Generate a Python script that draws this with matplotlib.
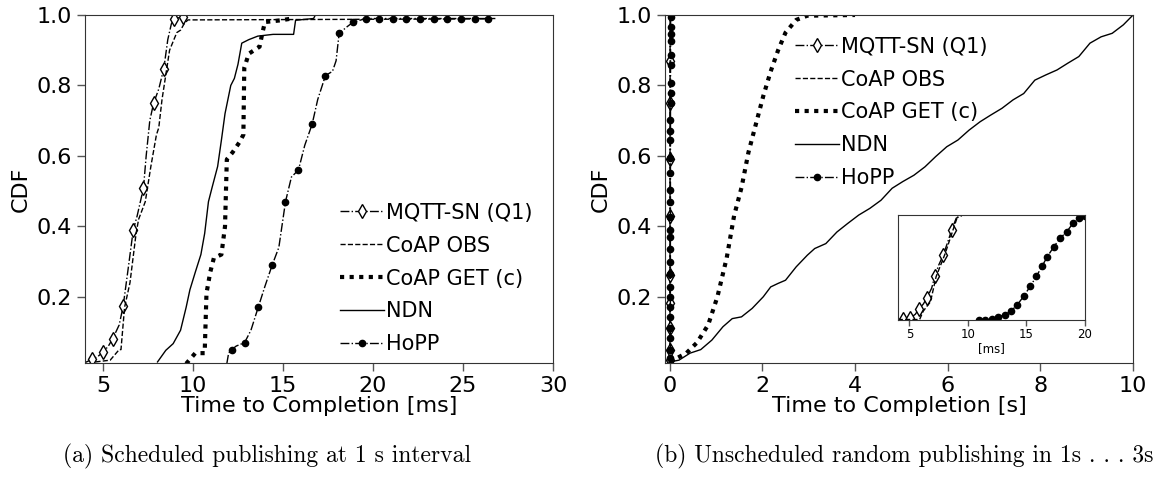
import numpy as np
import matplotlib
matplotlib.use("Agg")
import matplotlib.pyplot as plt
from matplotlib.lines import Line2D

# ---- (a) scheduled publishing, time in ms ----
mqtt_a_x = [4.0, 4.37, 4.7, 4.99, 5.3, 5.54, 5.9, 6.12, 6.4, 6.68, 6.9, 7.25, 7.4, 7.6, 7.81,
            8.1, 8.38, 8.6, 8.8, 8.96, 9.45, 9.7]
mqtt_a_y = [0.013, 0.022, 0.03, 0.042, 0.06, 0.081, 0.12, 0.173, 0.28, 0.389, 0.43, 0.509, 0.6,
            0.7, 0.749, 0.79, 0.848, 0.93, 0.975, 0.989, 0.995, 1.0]
mqtt_a_marks = [1, 3, 5, 7, 9, 11, 14, 16, 19, 20]

obs_a_x = [4.58, 5.4, 5.9, 6.0, 6.2, 6.5, 6.84, 6.98, 7.35, 7.66, 7.97, 8.1, 8.28, 8.49, 8.7,
           9.1, 9.31, 9.52, 9.72, 26.5]
obs_a_y = [0.015, 0.02, 0.05, 0.05, 0.17, 0.24, 0.38, 0.42, 0.47, 0.57, 0.66, 0.68, 0.76, 0.83,
           0.9, 0.95, 0.957, 0.976, 0.986, 0.989]

get_a_x = [9.62, 10.13, 10.65, 10.75, 10.96, 11.16, 11.58, 11.78, 11.88, 12.2, 12.6, 12.8,
           12.85, 13.1, 13.7, 13.86, 14.0, 14.9, 15.5]
get_a_y = [0.01, 0.04, 0.04, 0.21, 0.27, 0.31, 0.32, 0.40, 0.59, 0.61, 0.64, 0.66, 0.85, 0.89,
           0.91, 0.95, 0.98, 0.985, 0.99]

ndn_a_x = [8.03, 8.49, 8.9, 9.31, 9.62, 9.83, 10.13, 10.44, 10.65, 10.86, 11.06, 11.37, 11.58,
           11.78, 12.1, 12.3, 12.5, 12.71, 13.1, 13.6, 14.45, 15.59, 15.7, 16.7, 16.8]
ndn_a_y = [0.015, 0.048, 0.067, 0.105, 0.17, 0.22, 0.27, 0.32, 0.38, 0.47, 0.51, 0.57, 0.645,
           0.72, 0.8, 0.82, 0.86, 0.92, 0.93, 0.94, 0.945, 0.945, 0.985, 0.99, 1.0]

hopp_a_x = [11.88, 11.98, 12.15, 12.4, 12.87, 13.22, 13.63, 14.0, 14.4, 14.77, 15.14, 15.47,
            15.86, 16.21, 16.62, 16.93, 17.36, 17.75, 17.95, 18.12, 18.57, 18.88, 19.6, 20.36,
            21.1, 21.86, 22.6, 23.37, 24.1, 24.87, 25.65, 26.4, 26.8]
hopp_a_y = [0.01, 0.04, 0.05, 0.06, 0.07, 0.105, 0.171, 0.23, 0.29, 0.34, 0.47, 0.54, 0.56,
            0.63, 0.69, 0.76, 0.828, 0.84, 0.87, 0.948, 0.967, 0.979, 0.99, 0.99, 0.99, 0.99,
            0.99, 0.99, 0.99, 0.99, 0.99, 0.99, 0.99]
hopp_a_marks = [2, 4, 6, 8, 10, 12, 14, 16, 19, 21, 22, 23, 24, 25, 26, 27, 28, 29, 30, 31]

# ---- (b) unscheduled random publishing ----
# near-zero protocols, in ms (shown in the inset, and in s in the main plot)
mqtt_b_ms = [4.0, 4.41, 5.09, 5.5, 5.81, 6.2, 6.5, 6.9, 7.18, 7.5, 7.9, 8.3, 8.62, 9.0, 9.5, 10.0]
mqtt_b_y = [0.0, 0.006, 0.016, 0.05, 0.10, 0.15, 0.21, 0.30, 0.42, 0.52, 0.62, 0.75, 0.86,
            0.97, 0.995, 1.0]
mqtt_b_marks = [1, 2, 4, 6, 8, 10, 12]
mqtt_b_main_marks = [0.02, 0.048, 0.111, 0.182, 0.261, 0.429, 0.591, 0.75, 0.868]

obs_b_ms = [4.0, 5.87, 6.18, 6.8, 7.28, 8.05, 9.0, 9.15, 10.0]
obs_b_y = [0.0, 0.0, 0.08, 0.17, 0.41, 0.63, 0.95, 1.0, 1.0]

hopp_b_ms = [10.96, 11.49, 12.05, 12.58, 13.14, 13.67, 14.23, 14.76, 15.32, 15.85, 16.32, 16.79,
             17.35, 17.88, 18.44, 18.97, 19.53, 20.0, 21.0]
hopp_b_y = [0.0, 0.0, 0.006, 0.022, 0.048, 0.079, 0.143, 0.222, 0.317, 0.413, 0.508, 0.603,
            0.698, 0.778, 0.84, 0.92, 0.968, 0.99, 1.0]
hopp_b_main_marks = [0.006, 0.025, 0.048, 0.082, 0.11, 0.143, 0.17, 0.2, 0.228, 0.266, 0.3,
                     0.337, 0.37, 0.39, 0.427, 0.47, 0.503, 0.55, 0.593, 0.645, 0.67, 0.702,
                     0.75, 0.778, 0.806, 0.858, 0.886, 0.927, 0.946, 0.967, 0.995]

# slow protocols, in s
get_b_x = [0.0, 0.36, 0.59, 0.83, 1.03, 1.23, 1.39, 1.55, 1.7, 1.86, 2.02, 2.18, 2.34, 2.5,
           2.73, 2.97, 4.0]
get_b_y = [0.015, 0.04, 0.07, 0.12, 0.2, 0.31, 0.43, 0.51, 0.61, 0.69, 0.77, 0.84, 0.9, 0.95,
           0.986, 0.998, 1.0]

ndn_b_x = [0.0, 0.2, 0.44, 0.67, 0.91, 1.15, 1.35, 1.55, 1.78, 2.02, 2.18, 2.34, 2.5, 2.73,
           2.97, 3.13, 3.37, 3.61, 3.84, 4.08, 4.32, 4.56, 4.8, 5.03, 5.27, 5.51, 5.74, 5.98,
           6.22, 6.46, 6.7, 6.93, 7.17, 7.41, 7.64, 7.88, 8.12, 8.36, 8.59, 8.83, 9.07, 9.31,
           9.55, 9.79, 10.0]
ndn_b_y = [0.015, 0.02, 0.04, 0.05, 0.077, 0.115, 0.138, 0.143, 0.167, 0.2, 0.228, 0.238,
           0.247, 0.285, 0.318, 0.337, 0.351, 0.384, 0.408, 0.432, 0.451, 0.474, 0.508, 0.527,
           0.545, 0.569, 0.598, 0.626, 0.645, 0.673, 0.697, 0.716, 0.735, 0.759, 0.777, 0.815,
           0.83, 0.844, 0.863, 0.882, 0.92, 0.938, 0.948, 0.972, 1.0]

labels = ["MQTT-SN (Q1)", "CoAP OBS", "CoAP GET (c)", "NDN", "HoPP"]

FS = 16
plt.rcParams['font.family'] = ['DejaVu Sans']

s_mqtt = dict(color='k', ls='-.', lw=1.0)
s_obs = dict(color='k', ls='--', lw=1.0)
s_get = dict(color='k', ls=(0, (1, 1.3)), lw=3.0)
s_ndn = dict(color='k', ls='-', lw=1.0)
s_hopp = dict(color='k', ls='-.', lw=1.0)
m_mqtt = dict(marker='d', ms=7, mfc='white', mec='k', mew=1.0)
m_hopp = dict(marker='o', ms=4.5, mfc='k', mec='k')

handles = [Line2D([], [], **s_mqtt, **m_mqtt), Line2D([], [], **s_obs),
           Line2D([], [], **s_get), Line2D([], [], **s_ndn),
           Line2D([], [], **s_hopp, **m_hopp)]


def style_axes(ax, fs=FS):
    for sp in ax.spines.values():
        sp.set_color('#333333')
    ax.tick_params(direction='out', length=6, width=1, color='#555555', labelsize=fs,
                   top=False, right=False)


fig = plt.figure(figsize=(11.53, 4.82), dpi=100)

# ---------------- left ----------------
ax1 = fig.add_axes([0.0737, 0.2469, 0.4059, 0.722])
ax1.plot(mqtt_a_x, mqtt_a_y, **s_mqtt)
ax1.plot(np.array(mqtt_a_x)[mqtt_a_marks], np.array(mqtt_a_y)[mqtt_a_marks], ls='none', **m_mqtt)
ax1.plot(obs_a_x, obs_a_y, **s_obs)
ax1.plot(get_a_x, get_a_y, **s_get)
ax1.plot(ndn_a_x, ndn_a_y, **s_ndn)
ax1.plot(hopp_a_x, hopp_a_y, **s_hopp)
ax1.plot(np.array(hopp_a_x)[hopp_a_marks], np.array(hopp_a_y)[hopp_a_marks], ls='none', **m_hopp)
ax1.set_xlim(4, 30)
ax1.set_ylim(0.012, 1.0)
ax1.set_xticks([5, 10, 15, 20, 25, 30])
ax1.set_yticks([0.2, 0.4, 0.6, 0.8, 1.0])
ax1.set_xlabel("Time to Completion [ms]", fontsize=FS, labelpad=0)
ax1.set_ylabel("CDF", fontsize=FS, labelpad=4)
style_axes(ax1)
ax1.legend(handles, labels, loc='upper left', bbox_to_anchor=(0.295, 0.5795),
           bbox_transform=fig.transFigure, frameon=False, fontsize=15,
           handlelength=2.1, handletextpad=0.1, labelspacing=0.62, borderpad=0,
           borderaxespad=0)

# ---------------- right ----------------
ax2 = fig.add_axes([0.5768, 0.2469, 0.4059, 0.722])
mq_s = np.array(mqtt_b_ms) / 1000
ax2.plot(mq_s, mqtt_b_y, **s_mqtt)
ax2.plot(np.interp(mqtt_b_main_marks, mqtt_b_y, mq_s), mqtt_b_main_marks, ls='none', **m_mqtt)
ax2.plot(np.array(obs_b_ms) / 1000, obs_b_y, **s_obs)
ax2.plot(get_b_x, get_b_y, **s_get)
ax2.plot(ndn_b_x, ndn_b_y, **s_ndn)
hp_s = np.array(hopp_b_ms) / 1000
ax2.plot(hp_s, hopp_b_y, **s_hopp)
ax2.plot(np.interp(hopp_b_main_marks, hopp_b_y, hp_s), hopp_b_main_marks, ls='none', **m_hopp)
ax2.set_xlim(-0.1, 10)
ax2.set_ylim(0.012, 1.0)
ax2.set_xticks([0, 2, 4, 6, 8, 10])
ax2.set_yticks([0.2, 0.4, 0.6, 0.8, 1.0])
ax2.set_xlabel("Time to Completion [s]", fontsize=FS, labelpad=0)
ax2.set_ylabel("CDF", fontsize=FS, labelpad=4)
style_axes(ax2)
ax2.legend(handles, labels, loc='upper left', bbox_to_anchor=(0.6895, 0.924),
           bbox_transform=fig.transFigure, frameon=False, fontsize=15,
           handlelength=2.1, handletextpad=0.1, labelspacing=0.62, borderpad=0,
           borderaxespad=0)

# ---------------- inset ----------------
axi = fig.add_axes([0.7786, 0.3371, 0.1624, 0.2168])
axi.plot(mqtt_b_ms, mqtt_b_y, **s_mqtt)
axi.plot(np.array(mqtt_b_ms)[mqtt_b_marks], np.array(mqtt_b_y)[mqtt_b_marks], ls='none', **m_mqtt)
axi.plot(obs_b_ms, obs_b_y, **s_obs)
axi.plot(hopp_b_ms, hopp_b_y, **s_hopp)
axi.plot(hopp_b_ms, hopp_b_y, ls='none', **m_hopp)
axi.set_xlim(4, 20)
axi.set_ylim(0.0, 1.0)
axi.set_xticks([5, 10, 15, 20])
axi.set_yticks([])
axi.set_xlabel("[ms]", fontsize=8.5, labelpad=1)
style_axes(axi, fs=8.5)
axi.tick_params(length=4, pad=2)

# ---------------- captions ----------------
fig.text(0.0546, 0.04, "(a) Scheduled publishing at 1 s interval", family='cmr10',
         fontsize=17, ha='left', va='baseline')
fig.text(0.568, 0.04, "(b) Unscheduled random publishing in 1s . . . 3s", family='cmr10',
         fontsize=17, ha='left', va='baseline')

fig.savefig("out.png", dpi=100)
